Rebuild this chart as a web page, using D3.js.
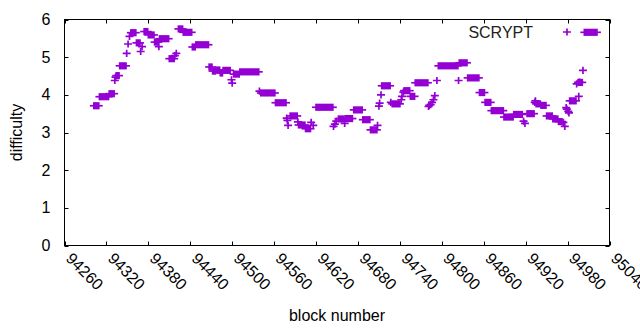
<!DOCTYPE html>
<html>
<head>
<meta charset="utf-8">
<script src="https://cdn.jsdelivr.net/npm/d3@7"></script>
<style>
  body { margin: 0; background: #fff; }
  svg { display: block; font-family: "Liberation Sans", Arial, sans-serif; }
</style>
</head>
<body>
<div id="container"></div>
<script>
// runs of blocks with the same difficulty (drawn as overlapping + marks)
const runStart = [94302, 94310, 94324, 94334, 94339, 94355, 94363, 94374, 94380, 94389,
  94396, 94410, 94423, 94430, 94443, 94448, 94467, 94472, 94477, 94483,
  94487, 94502, 94511, 94541, 94562, 94583, 94595, 94605, 94620, 94652,
  94662, 94674, 94687, 94698, 94714, 94729, 94746, 94755, 94762, 94795,
  94825, 94837, 94854, 94862, 94871, 94889, 94903, 94922, 94935, 94942,
  94950, 94959, 94967, 94983, 94995, 95004]
const runEnd = [94309, 94323, 94331, 94338, 94348, 94362, 94368, 94379, 94388, 94394,
  94409, 94417, 94429, 94442, 94447, 94466, 94471, 94476, 94482, 94486,
  94497, 94510, 94538, 94561, 94577, 94593, 94604, 94612, 94644, 94660,
  94672, 94686, 94697, 94707, 94726, 94740, 94754, 94761, 94780, 94823,
  94836, 94853, 94861, 94870, 94888, 94902, 94915, 94932, 94941, 94949,
  94958, 94966, 94972, 94992, 95001, 95022]
const runValue = [3.71, 3.95, 4.03, 4.51, 4.77, 5.65, 5.38, 5.68, 5.59, 5.40,
  5.49, 4.96, 5.75, 5.66, 5.27, 5.33, 4.74, 4.63, 4.66, 4.58,
  4.65, 4.55, 4.61, 4.05, 3.79, 3.44, 3.20, 3.10, 3.67, 3.36,
  3.37, 3.60, 3.34, 3.07, 4.24, 3.76, 4.11, 3.96, 4.32, 4.77,
  4.85, 4.45, 4.06, 3.80, 3.58, 3.41, 3.48, 3.50, 3.76, 3.72,
  3.44, 3.36, 3.29, 3.84, 4.33, 5.66]

// single blocks
const pointBlock = [94332, 94333, 94349, 94351, 94353, 94369, 94371, 94395, 94418, 94420,
  94499, 94500, 94539, 94578, 94579, 94580, 94594, 94613, 94616, 94645,
  94647, 94649, 94661, 94708, 94710, 94711, 94713, 94727, 94742, 94743,
  94745, 94781, 94782, 94784, 94786, 94788, 94790, 94793, 94824, 94917,
  94919, 94933, 94934, 94974, 94976, 94978, 94979, 94981, 94982, 94993,
  94996, 94997, 95002]
const pointValue = [4.38, 4.47, 5.10, 5.35, 5.55, 5.15, 5.28, 5.28, 5.04, 5.10,
  4.40, 4.31, 4.10, 3.38, 3.32, 3.19, 3.28, 3.27, 3.19, 3.16,
  3.22, 3.30, 3.24, 3.19, 3.70, 3.78, 4.00, 3.80, 3.87, 3.96,
  4.07, 3.69, 3.72, 3.74, 3.80, 3.87, 3.98, 4.38, 4.38, 3.30,
  3.24, 3.80, 3.84, 3.27, 3.16, 3.66, 3.62, 3.56, 3.52, 4.29,
  3.96, 4.34, 4.65]

const xTicks = [94260, 94320, 94380, 94440, 94500, 94560, 94620, 94680, 94740, 94800, 94860, 94920, 94980, 95040]
const yTicks = [0, 1, 2, 3, 4, 5, 6]
const seriesName = 'SCRYPT'

const width = 640
const height = 330
const m = {left: 64.5, right: 609.5, top: 19.5, bottom: 245.5}
const color = '#9400d3'
const hx = 4, hy = 3.6, sw = 1.7
const fs = 16

const xScale = d3.scaleLinear().domain([94260, 95040]).range([m.left, m.right])
const yScale = d3.scaleLinear().domain([0, 6]).range([m.bottom, m.top])

const svg = d3.select('#container').append('svg')
  .attr('width', width)
  .attr('height', height)

// ticks, mirrored on all sides, pointing in
const tl = 4
const grid = svg.append('g').attr('stroke', '#000').attr('stroke-width', 1)
xTicks.forEach(t => {
  const x = Math.round(xScale(t)) + 0.5
  grid.append('line').attr('x1', x).attr('x2', x).attr('y1', m.bottom).attr('y2', m.bottom - tl)
  grid.append('line').attr('x1', x).attr('x2', x).attr('y1', m.top).attr('y2', m.top + tl)
})
yTicks.forEach(t => {
  const y = Math.round(yScale(t)) + 0.5
  grid.append('line').attr('x1', m.left).attr('x2', m.left + tl).attr('y1', y).attr('y2', y)
  grid.append('line').attr('x1', m.right).attr('x2', m.right - tl).attr('y1', y).attr('y2', y)
})

// y labels
svg.append('g').selectAll('text')
  .data(yTicks)
  .enter()
  .append('text')
  .attr('x', m.left - 14)
  .attr('y', d => yScale(d) + 5.5)
  .attr('text-anchor', 'end')
  .attr('font-size', fs)
  .text(d => d)

// x labels, rotated
svg.append('g').selectAll('text')
  .data(xTicks)
  .enter()
  .append('text')
  .attr('transform', d => `translate(${xScale(d) + 0.5}, ${m.bottom + 14}) rotate(45)`)
  .attr('text-anchor', 'start')
  .attr('font-size', fs)
  .text(d => d)

// points
const marks = svg.append('g').attr('stroke', color).attr('fill', color).attr('stroke-width', sw)

function plus(g, cx, cy) {
  g.append('path')
    .attr('d', `M${cx - hx},${cy}H${cx + hx}M${cx},${cy - hy}V${cy + hy}`)
}

runStart.forEach((s, i) => {
  const x1 = xScale(s), x2 = xScale(runEnd[i]), y = yScale(runValue[i])
  marks.append('path')
    .attr('d', `M${x1 - hx},${y}H${x2 + hx}`)
  marks.append('rect')
    .attr('stroke', 'none')
    .attr('x', x1 - sw / 2)
    .attr('y', y - hy)
    .attr('width', x2 - x1 + sw)
    .attr('height', hy * 2)
})

pointBlock.forEach((b, i) => plus(marks, xScale(b), yScale(pointValue[i])))

// frame
svg.append('rect')
  .attr('x', m.left).attr('y', m.top)
  .attr('width', m.right - m.left).attr('height', m.bottom - m.top)
  .attr('fill', 'none').attr('stroke', '#000').attr('stroke-width', 1)

// legend
svg.append('text')
  .attr('x', 533)
  .attr('y', 37.5)
  .attr('text-anchor', 'end')
  .attr('font-size', fs)
  .attr('fill', '#222')
  .text(seriesName)
plus(svg.append('g').attr('stroke', color).attr('stroke-width', sw), 567, 32)

// axis titles
svg.append('text')
  .attr('x', (m.left + m.right) / 2)
  .attr('y', 321)
  .attr('text-anchor', 'middle')
  .attr('font-size', fs)
  .text('block number')

svg.append('text')
  .attr('transform', `translate(22, ${(m.top + m.bottom) / 2}) rotate(-90)`)
  .attr('text-anchor', 'middle')
  .attr('font-size', fs)
  .text('difficulty')
</script>
</body>
</html>
